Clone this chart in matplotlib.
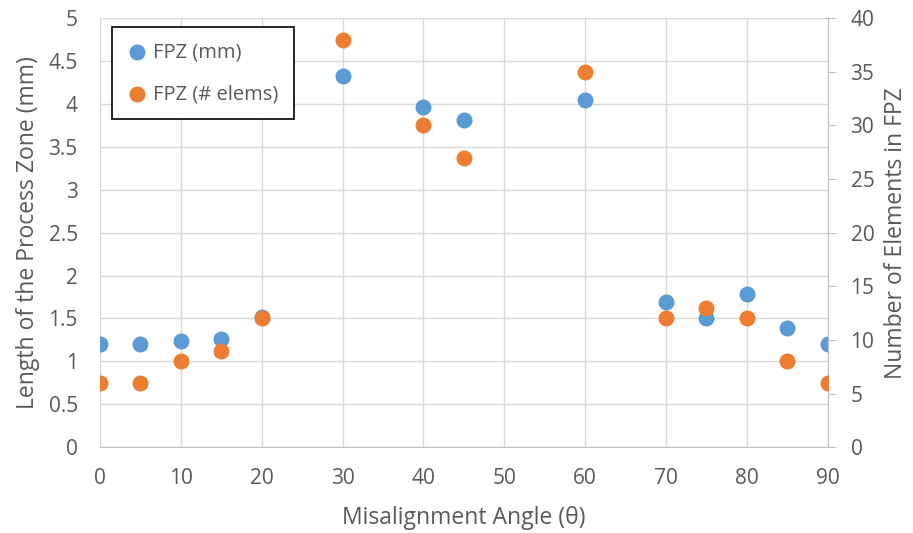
import matplotlib.pyplot as plt

plt.rcParams['font.family'] = ['Open Sans', 'DejaVu Sans']

# misalignment angle (deg) vs. process zone size
angle = [0, 5, 10, 15, 20, 30, 40, 45, 60, 70, 75, 80, 85, 90]
fpz_mm = [1.20, 1.20, 1.24, 1.26, 1.52, 4.33, 3.97, 3.81, 4.05, 1.69, 1.51, 1.79, 1.39, 1.20]
fpz_elems = [6, 6, 8, 9, 12, 38, 30, 27, 35, 12, 13, 12, 8, 6]

txt = '#595959'
grid = '#D9D9D9'

fig = plt.figure(figsize=(9.13, 5.33), dpi=100)
ax = fig.add_axes([0.1095, 0.161, 0.797, 0.805])
ax2 = ax.twinx()

ax.scatter(angle, fpz_mm, s=110, color='#5B9BD5', zorder=3, label='FPZ (mm)')
ax2.scatter(angle, fpz_elems, s=110, color='#ED7D31', zorder=3, label='FPZ (# elems)')

ax.set_xlim(0, 90)
ax.set_ylim(0, 5)
ax2.set_ylim(0, 40)
ax.set_xticks(range(0, 91, 10))
ax.set_yticks([i * 0.5 for i in range(11)])
ax.set_yticklabels(['0', '0.5', '1', '1.5', '2', '2.5', '3', '3.5', '4', '4.5', '5'])
ax2.set_yticks(range(0, 41, 5))

ax.grid(True, color=grid, linewidth=1)
ax.set_axisbelow(True)

for s in ['top', 'right', 'left']:
    ax.spines[s].set_visible(False)
for s in ['top', 'left', 'bottom']:
    ax2.spines[s].set_visible(False)
ax.spines['bottom'].set_color('#BFBFBF')
ax2.spines['right'].set_color('#BFBFBF')

ax.tick_params(axis='x', length=0, labelsize=15, labelcolor=txt, pad=15)
ax.tick_params(axis='y', length=0, labelsize=15, labelcolor=txt, pad=16)
ax2.tick_params(axis='y', length=5.5, color='#BFBFBF', labelsize=15, labelcolor=txt, pad=11)

ax.set_xlabel('Misalignment Angle (θ)', fontsize=16.5, color=txt, labelpad=12)
ax.set_ylabel('Length of the Process Zone (mm)', fontsize=16.5, color=txt, labelpad=6)
ax2.set_ylabel('Number of Elements in FPZ', fontsize=16.5, color=txt, labelpad=7)

h1, l1 = ax.get_legend_handles_labels()
h2, l2 = ax2.get_legend_handles_labels()
leg = ax2.legend(h1 + h2, l1 + l2, loc='upper left', bbox_to_anchor=(0.0165, 0.979),
                 fontsize=14.5, labelcolor=txt, frameon=True, fancybox=False,
                 edgecolor='black', framealpha=1, borderpad=0.75, labelspacing=1.1,
                 handlelength=1.0, handletextpad=0.3, borderaxespad=0)
leg.get_frame().set_linewidth(1.2)

fig.savefig('out.png', dpi=100)
